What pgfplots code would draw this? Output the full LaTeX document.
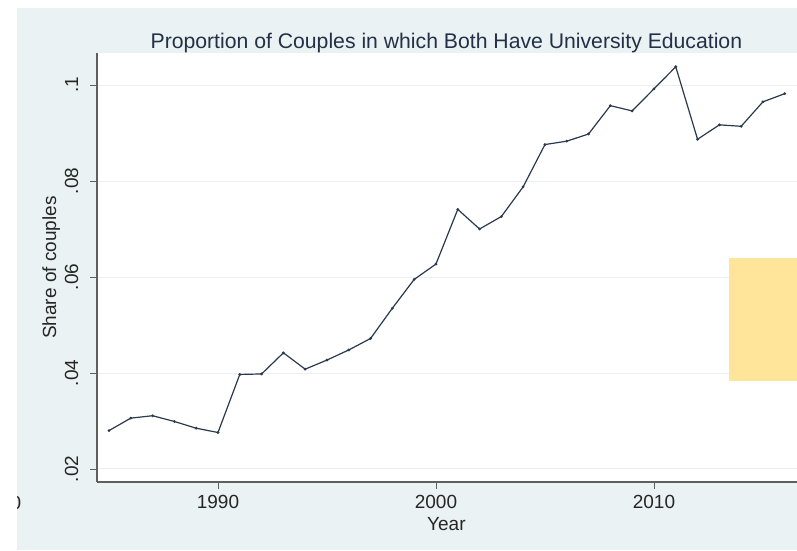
\documentclass[border=0pt]{standalone}
\usepackage{fontspec}
\setmainfont{Liberation Sans}
\usepackage{pgfplots}
\pgfplotsset{compat=1.18}

\definecolor{bgcol}{RGB}{234,242,243}
\definecolor{linecol}{RGB}{42,58,78}
\definecolor{gridcol}{RGB}{236,239,240}
\definecolor{titlecol}{RGB}{35,48,70}
\definecolor{boxcol}{RGB}{254,229,153}
\definecolor{axcol}{RGB}{95,95,95}

\pgfplotstableread{
year share
1985 0.0280
1986 0.0306
1987 0.0311
1988 0.0299
1989 0.0285
1990 0.0276
1991 0.0397
1992 0.0398
1993 0.0442
1994 0.0408
1995 0.0427
1996 0.0448
1997 0.0472
1998 0.0535
1999 0.0595
2000 0.0627
2001 0.0741
2002 0.0700
2003 0.0726
2004 0.0788
2005 0.0876
2006 0.0883
2007 0.0898
2008 0.0957
2009 0.0946
2010 0.0992
2011 0.1038
2012 0.0887
2013 0.0917
2014 0.0914
2015 0.0965
2016 0.0982
}\couples

\begin{document}
\begin{tikzpicture}[x=1pt,y=1pt]
% picture pixel (X,Y) sits at (X-97, 482-Y)
\useasboundingbox (-97,-68) rectangle (700,482);
\fill[white] (-97,-68) rectangle (700,482);
\fill[bgcol] (-80,-68) rectangle (700,474);
\begin{axis}[
    scale only axis,
    width=703pt, height=429pt,
    xmin=1984.45, xmax=2016.7,
    ymin=0.01729, ymax=0.10667,
    axis background/.style={fill=white},
    axis x line*=bottom, axis y line*=left,
    axis line style={axcol, line width=1.1pt},
    xtick={1990,2000,2010},
    xticklabels={1990,2000,2010},
    ytick={0.02,0.04,0.06,0.08,0.1},
    yticklabels={.02,.04,.06,.08,.1},
    tick align=outside,
    major tick length=7pt,
    tick style={axcol, line width=0.8pt},
    ymajorgrids,
    grid style={gridcol, line width=1pt},
    ticklabel style={font=\fontsize{19}{19}\selectfont, text=black!85},
    xticklabel style={anchor=base, yshift=-19pt},
    yticklabel style={rotate=90, anchor=base},
    yticklabel shift=12pt,
    title={Proportion of Couples in which Both Have University Education},
    title style={at={(axis description cs:0.497,1.0117)}, anchor=base, yshift=-7pt,
        font=\fontsize{21.2}{21.2}\selectfont, text=titlecol},
    xlabel={Year},
    xlabel style={at={(axis description cs:0.497,-0.1135)}, anchor=base,
        font=\fontsize{19}{19}\selectfont, text=black!85},
    ylabel={Share of couples},
    ylabel style={at={(axis description cs:-0.0583,0.5)}, anchor=base,
        font=\fontsize{19}{19}\selectfont, text=black!85},
]
\addplot[linecol, line width=1.2pt, mark=*, mark size=0.7pt] table[x=year, y=share] {\couples};
\end{axis}
\node[anchor=base, font=\fontsize{19}{19}\selectfont, text=black!85] at (-97,-27) {1980};
\fill[white] (-97,-68) rectangle (-80,482);
\fill[white] (-97,474) rectangle (700,482);
\fill[boxcol] (632,224) rectangle (700,101);
\end{tikzpicture}
\end{document}
